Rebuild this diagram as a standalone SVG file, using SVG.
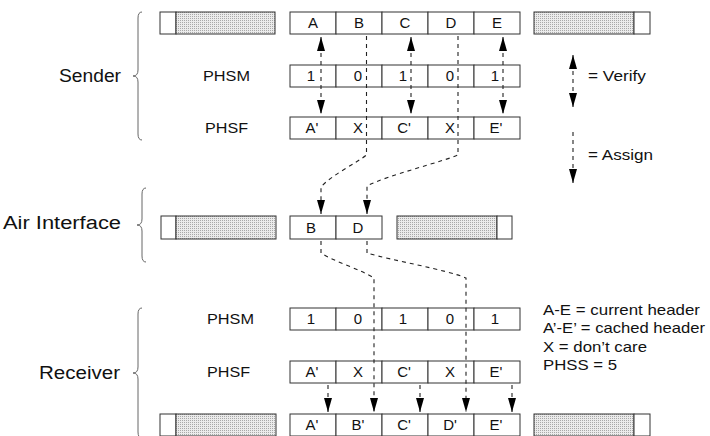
<svg xmlns="http://www.w3.org/2000/svg" width="710" height="436" viewBox="0 0 710 436">
<style>
text{font-family:"Liberation Sans",Arial,sans-serif;fill:#111;}
.big{font-size:18px;}
.lbl{font-size:15px;}
.cell{font-size:15px;text-anchor:middle;}
.box{fill:#fff;stroke:#333;stroke-width:1;}
.hat{fill:url(#dots);stroke:#333;stroke-width:1;}
.brace{fill:none;stroke:#666;stroke-width:1;}
.dash{fill:none;stroke:#222;stroke-width:1.1;stroke-dasharray:4 4;}
.v{marker-start:url(#ah);marker-end:url(#ah);}
.a{marker-end:url(#ah);}
</style>
<defs>
<pattern id="dots" width="2" height="2" patternUnits="userSpaceOnUse">
<rect width="2" height="2" fill="#ebebeb"/><rect width="1" height="1" fill="#a8a8a8"/>
</pattern>
<marker id="ah" viewBox="0 0 14 8" refX="14" refY="4" markerWidth="14" markerHeight="8" markerUnits="userSpaceOnUse" orient="auto-start-reverse">
<path d="M0,0 L14,4 L0,8 Z" fill="#000"/>
</marker>
</defs>
<rect width="710" height="436" fill="#fff"/>

<g id="sender-label">
<text class="big" x="121" y="82" text-anchor="end" textLength="62" lengthAdjust="spacingAndGlyphs">Sender</text>
<path class="brace" d="M142,12 Q138,12 138,18 V70 Q138,76 133,76 Q138,76 138,82 V134 Q138,140 142,140"/>
</g>
<g id="air-label">
<text class="big" x="121" y="229" text-anchor="end" textLength="118" lengthAdjust="spacingAndGlyphs">Air Interface</text>
<path class="brace" d="M146,188 Q142,188 142,194 V219 Q142,225 137,225 Q142,225 142,231 V256 Q142,262 146,262"/>
</g>
<g id="receiver-label">
<text class="big" x="120" y="379" text-anchor="end" textLength="81" lengthAdjust="spacingAndGlyphs">Receiver</text>
<path class="brace" d="M142,308 Q138,308 138,314 V367 Q138,373 133,373 Q138,373 138,379 V432 Q138,438 142,438"/>
</g>

<g id="sender-header">
<rect class="box" x="160" y="12" width="16" height="22"/>
<rect class="hat" x="176" y="12" width="99" height="22"/>
<rect class="box" x="290" y="12" width="46" height="22"/>
<rect class="box" x="336" y="12" width="46" height="22"/>
<rect class="box" x="382" y="12" width="46" height="22"/>
<rect class="box" x="428" y="12" width="46" height="22"/>
<rect class="box" x="474" y="12" width="46" height="22"/>
<text class="cell" x="313" y="28">A</text>
<text class="cell" x="359" y="28">B</text>
<text class="cell" x="405" y="28">C</text>
<text class="cell" x="451" y="28">D</text>
<text class="cell" x="497" y="28">E</text>
<rect class="hat" x="534" y="12" width="100" height="22"/>
<rect class="box" x="634" y="12" width="16" height="22"/>
</g>

<g id="sender-phsm">
<text class="lbl" x="203" y="81" textLength="47" lengthAdjust="spacingAndGlyphs">PHSM</text>
<rect class="box" x="290" y="65" width="46" height="22"/>
<rect class="box" x="336" y="65" width="46" height="22"/>
<rect class="box" x="382" y="65" width="46" height="22"/>
<rect class="box" x="428" y="65" width="46" height="22"/>
<rect class="box" x="474" y="65" width="46" height="22"/>
<text class="cell" x="311" y="81">1</text>
<text class="cell" x="358" y="81">0</text>
<text class="cell" x="403" y="81">1</text>
<text class="cell" x="450" y="81">0</text>
<text class="cell" x="495" y="81">1</text>
</g>

<g id="sender-phsf">
<text class="lbl" x="205" y="133" textLength="43" lengthAdjust="spacingAndGlyphs">PHSF</text>
<rect class="box" x="290" y="117" width="46" height="22"/>
<rect class="box" x="336" y="117" width="46" height="22"/>
<rect class="box" x="382" y="117" width="46" height="22"/>
<rect class="box" x="428" y="117" width="46" height="22"/>
<rect class="box" x="474" y="117" width="46" height="22"/>
<text class="cell" x="312" y="133">A'</text>
<text class="cell" x="358" y="133">X</text>
<text class="cell" x="404" y="133">C'</text>
<text class="cell" x="450" y="133">X</text>
<text class="cell" x="496" y="133">E'</text>
</g>

<g id="air-packet">
<rect class="box" x="161" y="216" width="15" height="23"/>
<rect class="hat" x="176" y="216" width="100" height="23"/>
<rect class="box" x="290" y="216" width="46" height="23"/>
<rect class="box" x="336" y="216" width="46" height="23"/>
<text class="cell" x="311" y="233">B</text>
<text class="cell" x="358" y="233">D</text>
<rect class="hat" x="397" y="216" width="100" height="23"/>
<rect class="box" x="497" y="216" width="15" height="23"/>
</g>

<g id="receiver-phsm">
<text class="lbl" x="207" y="324" textLength="47" lengthAdjust="spacingAndGlyphs">PHSM</text>
<rect class="box" x="290" y="308" width="46" height="22"/>
<rect class="box" x="336" y="308" width="46" height="22"/>
<rect class="box" x="382" y="308" width="46" height="22"/>
<rect class="box" x="428" y="308" width="46" height="22"/>
<rect class="box" x="474" y="308" width="46" height="22"/>
<text class="cell" x="311" y="324">1</text>
<text class="cell" x="358" y="324">0</text>
<text class="cell" x="403" y="324">1</text>
<text class="cell" x="450" y="324">0</text>
<text class="cell" x="495" y="324">1</text>
</g>

<g id="receiver-phsf">
<text class="lbl" x="207" y="377" textLength="43" lengthAdjust="spacingAndGlyphs">PHSF</text>
<rect class="box" x="290" y="361" width="46" height="22"/>
<rect class="box" x="336" y="361" width="46" height="22"/>
<rect class="box" x="382" y="361" width="46" height="22"/>
<rect class="box" x="428" y="361" width="46" height="22"/>
<rect class="box" x="474" y="361" width="46" height="22"/>
<text class="cell" x="312" y="377">A'</text>
<text class="cell" x="358" y="377">X</text>
<text class="cell" x="404" y="377">C'</text>
<text class="cell" x="450" y="377">X</text>
<text class="cell" x="496" y="377">E'</text>
</g>

<g id="receiver-header">
<rect class="box" x="160" y="414" width="16" height="22"/>
<rect class="hat" x="176" y="414" width="100" height="22"/>
<rect class="box" x="290" y="414" width="46" height="22"/>
<rect class="box" x="336" y="414" width="46" height="22"/>
<rect class="box" x="382" y="414" width="46" height="22"/>
<rect class="box" x="428" y="414" width="46" height="22"/>
<rect class="box" x="474" y="414" width="46" height="22"/>
<text class="cell" x="312" y="430">A'</text>
<text class="cell" x="358" y="430">B'</text>
<text class="cell" x="404" y="430">C'</text>
<text class="cell" x="450" y="430">D'</text>
<text class="cell" x="496" y="430">E'</text>
<rect class="hat" x="534" y="414" width="100" height="22"/>
<rect class="box" x="634" y="414" width="16" height="22"/>
</g>

<g id="legend">
<path class="dash v" d="M573,55 V107"/>
<text class="lbl" x="588" y="81" textLength="58" lengthAdjust="spacingAndGlyphs">= Verify</text>
<path class="dash a" d="M573,132 V183"/>
<text class="lbl" x="588" y="160" textLength="65" lengthAdjust="spacingAndGlyphs">= Assign</text>
<text class="lbl" x="543" y="315" textLength="157" lengthAdjust="spacingAndGlyphs">A-E = current header</text>
<text class="lbl" x="543" y="333" textLength="162" lengthAdjust="spacingAndGlyphs">A’-E’ = cached header</text>
<text class="lbl" x="543" y="352" textLength="104" lengthAdjust="spacingAndGlyphs">X = don’t care</text>
<text class="lbl" x="543" y="370" textLength="74" lengthAdjust="spacingAndGlyphs">PHSS = 5</text>
</g>

<g id="connectors">
<path class="dash v" d="M321,37 V114"/>
<path class="dash v" d="M411,37 V114"/>
<path class="dash v" d="M503,37 V114"/>
<path class="dash a" d="M366.5,36 V155 C358,162 330,176 321,187 V214"/>
<path class="dash a" d="M458,36 V155 C445,161 385,176 367,186 V214"/>
<path class="dash a" d="M321,241 V253 C335,262 362,270 374,278 V412"/>
<path class="dash a" d="M367,241 V253 C390,260 448,270 466,278 V412"/>
<path class="dash a" d="M328,385 V412"/>
<path class="dash a" d="M420,385 V412"/>
<path class="dash a" d="M512,385 V412"/>
</g>
</svg>
